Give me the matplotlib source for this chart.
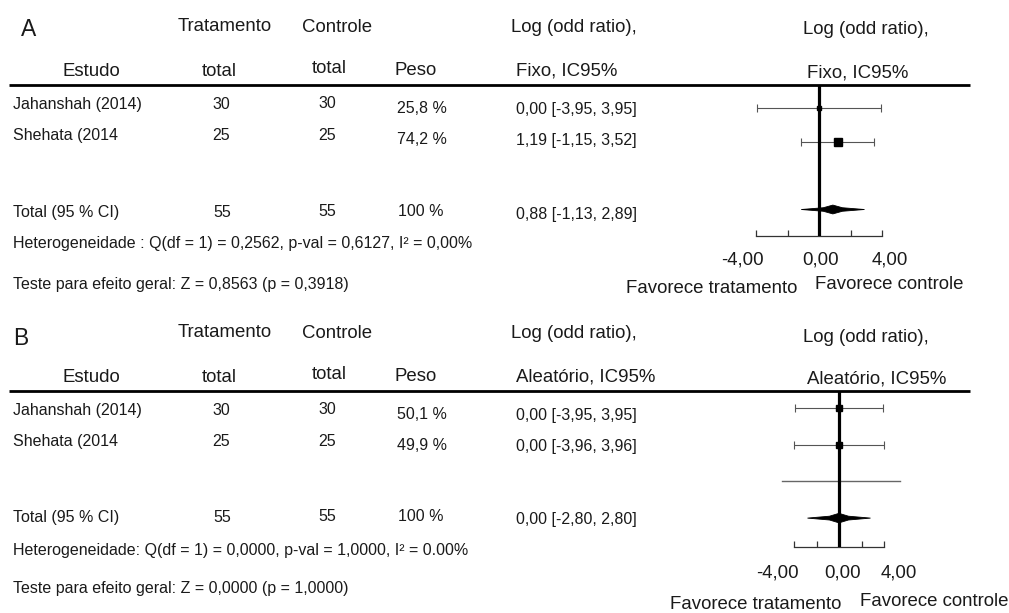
import matplotlib
matplotlib.use("Agg")
import matplotlib.pyplot as plt
from matplotlib.patches import Polygon
import numpy as np

plt.rcParams['font.family'] = ['Liberation Sans', 'DejaVu Sans']

# ---------------- data ----------------
studies = ["Jahanshah (2014)", "Shehata (2014"]
trat_total = [30, 25]
ctrl_total = [30, 25]
total_label = "Total (95 % CI)"

# Panel A: fixed effect
w_fixed = [25.8, 74.2]
est_fixed = [0.00, 1.19]
lo_fixed = [-3.95, -1.15]
hi_fixed = [3.95, 3.52]
pool_fixed = [0.88, -1.13, 2.89]  # estimate, low, high
het_fixed = "Heterogeneidade : Q(df = 1) = 0,2562, p-val = 0,6127, I² = 0,00%"
test_fixed = "Teste para efeito geral: Z = 0,8563 (p = 0,3918)"

# Panel B: random effect
w_random = [50.1, 49.9]
est_random = [0.00, 0.00]
lo_random = [-3.95, -3.96]
hi_random = [3.95, 3.96]
pool_random = [0.00, -2.80, 2.80]
pred_random = [-5.1, 5.4]  # prediction interval as drawn
het_random = "Heterogeneidade: Q(df = 1) = 0,0000, p-val = 1,0000, I² = 0.00%"
test_random = "Teste para efeito geral: Z = 0,0000 (p = 1,0000)"

xticks = [-4, -2, 0, 2, 4]
xticklabels = ["-4,00", "", "0,00", "", "4,00"]


def fmt(v):
    return f"{v:.2f}".replace(".", ",")


def fmt_w(v):
    return f"{v:.1f}".replace(".", ",") + " %"


W, H = 1009, 613
fig = plt.figure(figsize=(W / 100, H / 100), dpi=100)
bg = fig.add_axes([0, 0, 1, 1])
bg.set_xlim(0, W)
bg.set_ylim(H, 0)
bg.axis("off")

TXT = "#1a1a1a"
HS = 13.4   # header size
BS = 11.5   # body size


def panel(off, letter, model, w, est, lo, hi, pool, het, test, pred,
          zero_px, px_per_unit, row0_px, row_px, top_px, bot_px,
          lab_dx, lab_dy, fav):
    b = 1 if letter == "B" else 0
    t = lambda x, y, s, size=BS, **kw: bg.text(x, y + off, s, fontsize=size,
                                                 color=TXT, va="baseline", **kw)
    t(13 if b else 21, 45 if b else 36, letter, size=16.5)
    t(178, 31 + 6 * b, "Tratamento", size=HS)
    t(302, 32 + 6 * b, "Controle", size=HS)
    t(511, 32 + 6 * b, "Log (odd ratio),", size=HS)
    t(803, 34 + 8 * b, "Log (odd ratio),", size=HS)
    hy = 82 if b else 76
    t(63, hy, "Estudo", size=HS)
    t(202, hy, "total", size=HS)
    t(312, hy - 3, "total", size=HS)
    t(395, hy - 1, "Peso", size=HS)
    t(516, hy, f"{model}, IC95%", size=HS)
    t(807, hy + 2, f"{model}, IC95%", size=HS)
    # header rule
    bg.plot([9, 970], [85 + off + 6 * b] * 2,
            color="black", lw=2.0, solid_capstyle="butt")

    rb = [115, 146] if b else [109, 140]
    for i in range(len(studies)):
        t(13, rb[i], studies[i])
        t(212, rb[i], str(trat_total[i]))
        t(318, rb[i] - 1 + i, str(ctrl_total[i]))
        t(397, rb[i] + 4, fmt_w(w[i]))
        t(516, rb[i] + 5, f"{fmt(est[i])} [{fmt(lo[i])}, {fmt(hi[i])}]")
    tb = 222 if b else 217
    t(13, tb, total_label)
    t(213, tb, str(sum(trat_total)))
    t(318, tb - 1, str(sum(ctrl_total)))
    t(398, tb - 1, "100 %")
    t(516, tb + 2, f"{fmt(pool[0])} [{fmt(pool[1])}, {fmt(pool[2])}]")
    t(13, 255 if b else 248, het)
    t(13, 293 if b else 289, test)
    t(fav[0], fav[1], "Favorece tratamento", size=HS)
    t(fav[2], fav[3], "Favorece controle", size=HS)

    # --- forest axes ---
    xl = (-6.5, 6.5)
    left_px = zero_px + xl[0] * px_per_unit
    width_px = (xl[1] - xl[0]) * px_per_unit
    ymin_row = (top_px - row0_px) / row_px
    ymax_row = (bot_px - row0_px) / row_px
    ax = fig.add_axes([left_px / W, 1 - (bot_px + off) / H,
                       width_px / W, (bot_px - top_px) / H])
    ax.set_xlim(*xl)
    ax.set_ylim(ymax_row, ymin_row)
    ax.patch.set_alpha(0)
    for s in ["top", "right", "left"]:
        ax.spines[s].set_visible(False)
    ax.spines["bottom"].set_bounds(xticks[0], xticks[-1])
    ax.spines["bottom"].set_linewidth(0.9)
    ax.spines["bottom"].set_color("#333333")
    ax.set_yticks([])
    ax.set_xticks(xticks)
    ax.set_xticklabels([])
    ax.tick_params(axis="x", direction="in", length=4, width=0.9, colors="#333333")
    for v, lab, dx in zip(xticks, xticklabels, lab_dx):
        if lab:
            ax.annotate(lab, xy=(v, 0), xycoords=ax.get_xaxis_transform(),
                        xytext=(dx, -lab_dy), textcoords="offset pixels",
                        ha="center", va="baseline", fontsize=HS, color=TXT,
                        annotation_clip=False)

    rows = np.arange(len(studies))
    ax.errorbar(est, rows, xerr=[np.array(est) - np.array(lo), np.array(hi) - np.array(est)],
                fmt="none", ecolor="#555555", elinewidth=0.8, capsize=2.6,
                capthick=0.8, zorder=2)
    wmax = max(w_fixed)
    for i in rows:
        ms = 5.2 * np.sqrt(w[i] / wmax)
        ax.plot(est[i], i, marker="s", color="black", ms=ms, zorder=4)
    ax.axvline(0, color="black", lw=2.3, zorder=3)
    if pred is not None:
        ax.plot(pred, [2, 2], color="#666666", lw=1.0, zorder=2)
    # pooled diamond (concave sides)
    c, l, h = pool
    yy = 3
    hh = 0.13
    pts = [(l, yy), (c - 0.3 * (c - l), yy - hh * 0.4), (c, yy - hh),
           (c + 0.3 * (h - c), yy - hh * 0.4), (h, yy),
           (c + 0.3 * (h - c), yy + hh * 0.4), (c, yy + hh),
           (c - 0.3 * (c - l), yy + hh * 0.4)]
    ax.add_patch(Polygon(pts, closed=True, facecolor="black",
                         edgecolor="black", lw=0.6, zorder=4))


panel(0, "A", "Fixo", w_fixed, est_fixed, lo_fixed, hi_fixed, pool_fixed,
      het_fixed, test_fixed, None,
      zero_px=819, px_per_unit=15.75, row0_px=107.5, row_px=34,
      top_px=85, bot_px=236, lab_dx=[-14, 0, 2, 0, 8], lab_dy=28,
      fav=(626, 293, 815, 289))

panel(300, "B", "Aleatório", w_random, est_random, lo_random, hi_random, pool_random,
      het_random, test_random, pred_random,
      zero_px=839, px_per_unit=11.25, row0_px=108, row_px=36.7,
      top_px=91, bot_px=247, lab_dx=[-17, 0, 3.5, 0, 15], lab_dy=31,
      fav=(670, 309, 860, 306))

fig.savefig("out.png", dpi=100)
